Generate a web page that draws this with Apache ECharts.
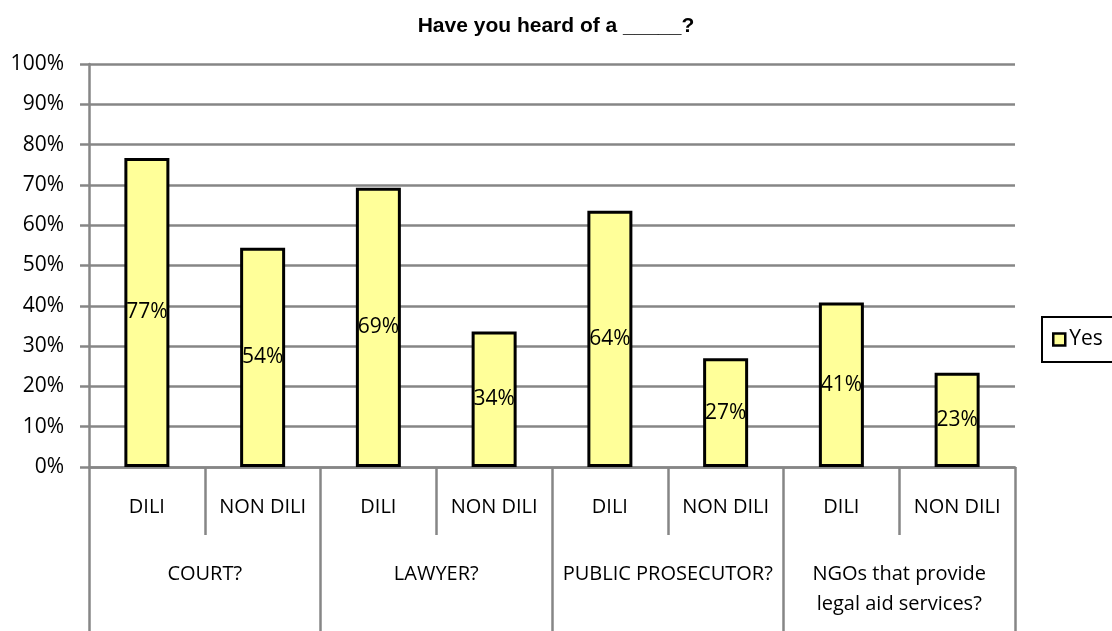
<!DOCTYPE html>
<html>
<head>
<meta charset="utf-8">
<script src="https://cdn.jsdelivr.net/npm/echarts@6/dist/echarts.min.js"></script>
<style>
  html, body { margin: 0; padding: 0; background: #fff; }
  #chart { width: 1112px; height: 631px; }
</style>
</head>
<body>
<div id="chart"></div>
<script>
const subCategories = ['DILI', 'NON DILI', 'DILI', 'NON DILI', 'DILI', 'NON DILI', 'DILI', 'NON DILI'];
const groups = ['COURT?', 'LAWYER?', 'PUBLIC PROSECUTOR?', 'NGOs that provide\nlegal aid services?'];
const yesValues = [0.767, 0.544, 0.693, 0.336, 0.636, 0.270, 0.408, 0.234];

const gray = '#868686';
const font = 'Open Sans';
const lineW = 2.5;

const chart = echarts.init(document.getElementById('chart'));

chart.setOption({
  animation: false,
  title: {
    text: 'Have you heard of a _____?',
    left: 'center',
    top: 11,
    textStyle: { fontFamily: 'Liberation Sans', fontWeight: 'bold', fontSize: 21, color: '#000' }
  },
  legend: {
    data: ['Yes'],
    left: 1042,
    top: 317,
    orient: 'vertical',
    padding: [12, 20, 12, 10],
    borderColor: '#000',
    borderWidth: 2,
    icon: 'rect',
    itemWidth: 12,
    itemHeight: 12,
    itemGap: 0,
    itemStyle: { borderWidth: 2.5, borderColor: '#000' },
    textStyle: { fontFamily: font, fontSize: 21, color: '#000', padding: [0, 0, 0, -1] }
  },
  grid: { left: 89, right: 97, top: 64, bottom: 164 },
  xAxis: [
    {
      type: 'category',
      data: subCategories,
      axisLine: { show: true, lineStyle: { color: gray, width: lineW } },
      axisTick: { show: true, length: 68, interval: 0, lineStyle: { color: gray, width: lineW } },
      axisLabel: { interval: 0, margin: 30, fontFamily: font, fontSize: 20, color: '#000' }
    },
    {
      type: 'category',
      data: groups,
      position: 'bottom',
      axisLine: { show: false },
      axisTick: { show: true, length: 164, interval: 0, lineStyle: { color: gray, width: lineW } },
      axisLabel: { interval: 0, margin: 92, lineHeight: 30, fontFamily: font, fontSize: 20, color: '#000' }
    }
  ],
  yAxis: {
    type: 'value',
    min: 0,
    max: 1,
    interval: 0.1,
    axisLine: { show: true, lineStyle: { color: gray, width: lineW } },
    axisTick: { show: true, length: 9, lineStyle: { color: gray, width: lineW } },
    splitLine: { lineStyle: { color: gray, width: lineW } },
    axisLabel: {
      margin: 25,
      fontFamily: font,
      fontSize: 21,
      color: '#000',
      formatter: v => Math.round(v * 100) + '%'
    }
  },
  series: [
    {
      name: 'Yes',
      type: 'bar',
      xAxisIndex: 0,
      data: yesValues,
      barWidth: 45,
      itemStyle: { color: '#FFFF99', borderColor: '#000', borderWidth: 3 },
      label: {
        show: true,
        position: 'inside',
        fontFamily: font,
        fontSize: 21,
        color: '#000',
        formatter: p => Math.round(p.value * 100) + '%'
      }
    }
  ]
});
</script>
</body>
</html>
